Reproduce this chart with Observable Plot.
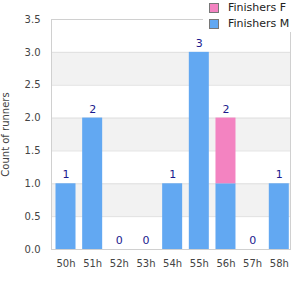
<!DOCTYPE html>
<html>
<head>
<meta charset="utf-8">
<script src="https://cdn.jsdelivr.net/npm/d3@7"></script>
<script src="https://cdn.jsdelivr.net/npm/@observablehq/plot@0.6"></script>
<style>
  html, body { margin: 0; padding: 0; background: #fff; }
  #wrap { position: relative; width: 300px; height: 300px; font-family: "DejaVu Sans", sans-serif; }
  #legend { position: absolute; left: 203px; top: 0px; width: 97px; height: 32px; background: #fff; font-size: 11px; color: #222; }
  .item { position: absolute; left: 6px; display: flex; align-items: center; }
  .sw { width: 8px; height: 8px; border: 1px solid #777; margin-right: 9px; }
</style>
</head>
<body>
<div id="wrap"></div>
<script>
const hours = ["50h","51h","52h","53h","54h","55h","56h","57h","58h"];
const male = [1, 2, 0, 0, 1, 3, 1, 0, 1];
const female = [0, 0, 0, 0, 0, 0, 1, 0, 0];
const seriesNames = ["Finishers M", "Finishers F"];
const seriesColors = ["#62a8f2", "#f383c1"];
const yTicks = [0, 0.5, 1, 1.5, 2, 2.5, 3, 3.5];
const bandStarts = [0.5, 1.5, 2.5];

const rows = [];
hours.forEach((h, i) => {
  rows.push({hour: h, series: seriesNames[0], count: male[i]});
  rows.push({hour: h, series: seriesNames[1], count: female[i]});
});
const totals = hours.map((h, i) => ({hour: h, total: male[i] + female[i]}));
const bands = bandStarts.map(b => ({y1: b, y2: b + 0.5}));

const chart = Plot.plot({
  width: 300,
  height: 300,
  marginTop: 19,
  marginBottom: 51,
  marginLeft: 51,
  marginRight: 10,
  style: {fontFamily: "DejaVu Sans, sans-serif", fontSize: "10px", color: "#444", background: "#fff"},
  x: {domain: hours, round: false, paddingInner: 0.25, paddingOuter: 0.107, align: 0.79, label: null, tickSize: 0, tickPadding: 10},
  y: {domain: [0, 3.5], ticks: yTicks, tickFormat: d3.format(".1f"), tickSize: 0, tickPadding: 11, label: "Count of runners", labelAnchor: "center", labelOffset: 50, labelArrow: "none"},
  color: {domain: seriesNames, range: seriesColors},
  marks: [
    Plot.rect(bands, {y1: "y1", y2: "y2", fill: "#f2f2f2"}),
    Plot.ruleY(yTicks, {stroke: "#e0e0e0"}),
    Plot.barY(rows, {x: "hour", y: "count", fill: "series", order: seriesNames}),
    Plot.text(totals, {x: "hour", y: "total", text: d => String(d.total), dy: -9, fill: "#1a1a8e", fontSize: 11}),
    Plot.frame({stroke: "#d0d0d0"})
  ]
});

const wrap = document.getElementById("wrap");
wrap.appendChild(chart);
const legend = document.createElement("div");
legend.id = "legend";
[[seriesNames[1], seriesColors[1], 1], [seriesNames[0], seriesColors[0], 17]].forEach(([name, col, top]) => {
  const it = document.createElement("div");
  it.className = "item";
  it.style.top = top + "px";
  const sw = document.createElement("div");
  sw.className = "sw";
  sw.style.background = col;
  it.appendChild(sw);
  const t = document.createElement("span");
  t.textContent = name;
  it.appendChild(t);
  legend.appendChild(it);
});
wrap.appendChild(legend);
</script>
</body>
</html>
